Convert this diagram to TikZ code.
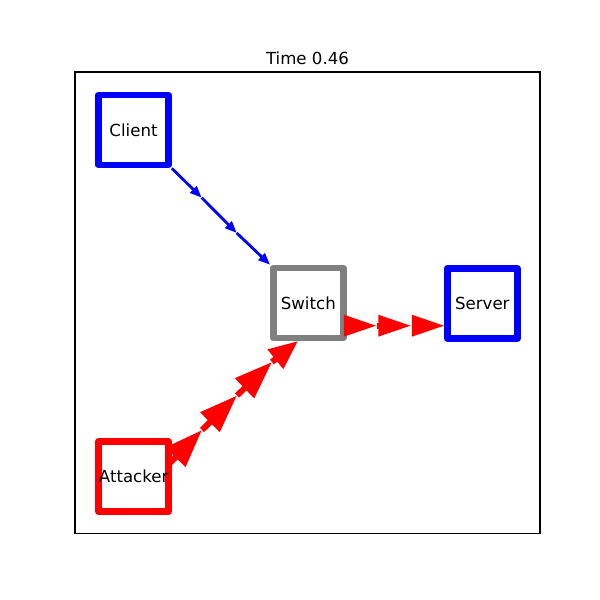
\documentclass[tikz,border=0pt]{standalone}
\usepackage{fontspec}
\setmainfont{DejaVu Sans}
\usetikzlibrary{arrows.meta}
\begin{document}
\begin{tikzpicture}[x=0.01in,y=-0.01in,
  devbox/.style={draw=#1,line width=4.7pt,line join=round,minimum width=0.7in,minimum height=0.7in,inner sep=0pt,font=\fontsize{12pt}{14pt}\selectfont},
  bluearrow/.style={draw=blue,line width=2pt,-{Triangle[length=8.6pt,width=6.6pt]}},
  reddiag/.style={draw=red,line width=4.3pt,-{Triangle[length=27.5pt,width=19pt]}},
  redshort/.style={draw=red,line width=4.3pt,-{Triangle[length=21pt,width=17pt]}},
  redhor/.style={draw=red,line width=4.3pt,-{Triangle[length=24pt,width=14.5pt]}}
]
\useasboundingbox (0,0) rectangle (600,600);
\fill[white] (0,0) rectangle (600,600);
\draw[line width=0.75pt] (75,72) rectangle (540,533.5);
\node[font=\fontsize{12pt}{14pt}\selectfont] (title) at (307.5,58) {Time 0.46};

\node[devbox=blue] (client) at (133.5,130) {Client};
\node[devbox=gray] (switch) at (308.3,303) {Switch};
\node[devbox=blue] (server) at (482.3,303.3) {Server};
\node[devbox=red] (attacker) at (133.7,476.7) {Attacker};

% client -> switch
\coordinate (b1) at (201.7,197.7);
\coordinate (b2) at (236.7,233);
\draw[bluearrow] (client.south east) -- (b1);
\draw[bluearrow] (b1) -- (b2);
\draw[bluearrow] (b2) -- (switch.north west);

% attacker -> switch
\coordinate (r0) at (169,464);
\coordinate (r1) at (202,430);
\coordinate (r2) at (237,395.5);
\coordinate (r3) at (272,362);
\coordinate (r4) at (298,341);
\draw[reddiag] (r0) -- (r1);
\draw[reddiag] (r1) -- (r2);
\draw[reddiag] (r2) -- (r3);
\draw[redshort] (r3) -- (r4);

% switch -> server
\coordinate (h0) at (346.7,325.7);
\coordinate (h1) at (377,325.7);
\coordinate (h2) at (411.5,325.7);
\coordinate (h3) at (445,325.7);
\draw[redhor] (h0) -- (h1);
\draw[redhor] (h1) -- (h2);
\draw[redhor] (h2) -- (h3);
\end{tikzpicture}
\end{document}
